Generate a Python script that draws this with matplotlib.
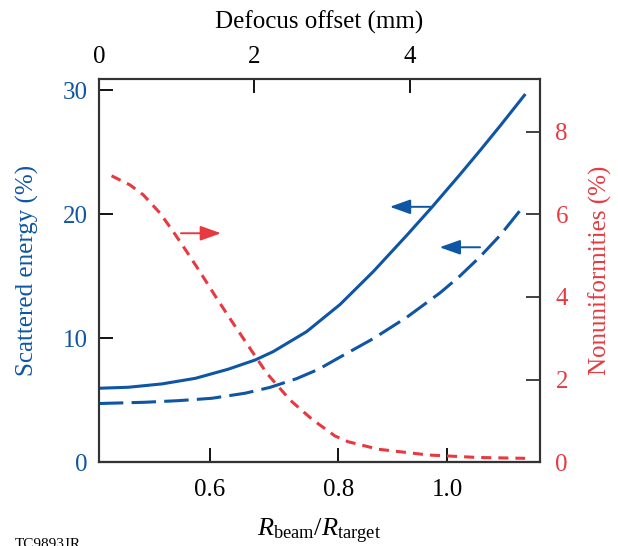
import numpy as np
import matplotlib
matplotlib.use("Agg")
import matplotlib.pyplot as plt

plt.rcParams["font.family"] = ["Liberation Serif", "DejaVu Serif"]
plt.rcParams["mathtext.fontset"] = "custom"
plt.rcParams["mathtext.rm"] = "Liberation Serif"
plt.rcParams["mathtext.it"] = "Liberation Serif:italic"

BLUE = "#0e56a4"
RED = "#e63a40"
SPINE = "#333333"

# defocus offset (mm) where the R_beam/R_target ticks sit on the top scale
r_ticks = [0.6, 0.8, 1.0]
defocus_at_r = [1.428, 3.078, 4.480]

# scattered energy, solid curve (defocus mm, %)
solid_d = [0.0, 0.38, 0.81, 1.24, 1.66, 2.01, 2.24, 2.67, 3.10, 3.53, 3.96,
           4.27, 4.64, 4.90, 5.16, 5.47]
solid_e = [5.98, 6.06, 6.33, 6.78, 7.51, 8.26, 8.93, 10.54, 12.73, 15.40,
           18.32, 20.49, 23.19, 25.14, 27.14, 29.59]

# scattered energy, dashed curve
dash_d = [0.0, 0.59, 1.02, 1.45, 1.88, 2.20, 2.54, 2.82, 3.10, 3.53, 3.96,
          4.39, 4.64, 4.90, 5.16, 5.47]
dash_e = [4.75, 4.85, 4.98, 5.17, 5.58, 6.05, 6.75, 7.50, 8.49, 9.99, 11.71,
          13.69, 15.02, 16.58, 18.32, 20.74]

# nonuniformities (right axis, %)
nonu_d = [0.163, 0.399, 0.570, 0.785, 0.956, 1.128, 1.299, 1.514, 1.727,
          1.942, 2.157, 2.457, 2.736, 3.035, 3.206, 3.592, 4.235, 4.878, 5.479]
nonu_v = [6.93, 6.71, 6.47, 6.03, 5.58, 5.10, 4.61, 3.97, 3.36, 2.76, 2.16,
          1.51, 1.05, 0.64, 0.50, 0.32, 0.18, 0.12, 0.10]

# smooth map between defocus and R_beam/R_target through the tick anchors
coef = np.polyfit(r_ticks, defocus_at_r, 2)
r_grid = np.linspace(0.2, 1.6, 800)
d_grid = np.polyval(coef, r_grid)


def d_to_r(d):
    return np.interp(d, d_grid, r_grid)


def r_to_d(r):
    return np.interp(r, r_grid, d_grid)


def main():
    fig = plt.figure(figsize=(6.18, 5.46), dpi=100)
    ax = fig.add_axes([0.160, 0.153, 0.714, 0.703])
    ax2 = ax.twinx()

    ax.plot(solid_d, solid_e, color=BLUE, lw=2.2)
    ax.plot(dash_d, dash_e, color=BLUE, lw=2.2, dashes=(8, 2.7))
    ax2.plot(nonu_d, nonu_v, color=RED, lw=2.2, dashes=(3.3, 2.3))

    ax.set_xlim(0, 5.672)
    ax.set_ylim(0, 30.93)
    ax2.set_ylim(0, 30.93 * 0.3)

    # top axis: defocus offset
    ax.xaxis.tick_top()
    ax.xaxis.set_label_position("top")
    ax.set_xticks([0, 2, 4])
    ax.set_xlabel("Defocus offset (mm)", fontsize=18, labelpad=12)
    ax.tick_params(axis="x", direction="in", length=10, width=1.3,
                   labelsize=18, pad=8, colors="black")

    ax.set_yticks([0, 10, 20, 30])
    ax.tick_params(axis="y", direction="in", length=10, width=1.3,
                   labelsize=18, pad=8, labelcolor=BLUE, color="black")
    ax.set_ylabel("Scattered energy (%)", fontsize=18, color=BLUE, labelpad=17)

    ax2.set_yticks([0, 2, 4, 6, 8])
    ax2.tick_params(axis="y", direction="in", length=10, width=1.3,
                    labelsize=18, pad=11, labelcolor=RED, color=SPINE)
    ax2.set_ylabel("Nonuniformities (%)", fontsize=18, color=RED, labelpad=15)

    # bottom axis: R_beam / R_target
    sec = ax.secondary_xaxis("bottom", functions=(d_to_r, r_to_d))
    sec.set_xticks(r_ticks)
    sec.set_xticklabels(["0.6", "0.8", "1.0"])
    sec.tick_params(direction="in", length=10, width=1.3, labelsize=18, pad=12)
    sec.set_xlabel(r"$R_{\mathrm{beam}}/R_{\mathrm{target}}$", fontsize=19,
                   labelpad=11)

    for a in (ax, ax2):
        for s in a.spines.values():
            s.set_linewidth(1.5)
            s.set_color(SPINE)
    sec.spines["bottom"].set_linewidth(1.5)
    sec.spines["bottom"].set_color(SPINE)

    arrow = dict(arrowstyle="-|>,head_length=0.7,head_width=0.25",
                 lw=1.4, mutation_scale=18, shrinkA=0, shrinkB=0)
    ax.annotate("", xy=(3.74, 20.6), xytext=(4.26, 20.6),
                arrowprops=dict(arrow, color=BLUE))
    ax.annotate("", xy=(4.38, 17.34), xytext=(4.90, 17.34),
                arrowprops=dict(arrow, color=BLUE))
    ax.annotate("", xy=(1.57, 18.47), xytext=(1.055, 18.47),
                arrowprops=dict(arrow, color=RED))

    fig.text(15 / 618, -0.004, "TC9893JR", fontsize=11, va="baseline")

    fig.savefig("out.png", dpi=100)


if __name__ == "__main__":
    main()
